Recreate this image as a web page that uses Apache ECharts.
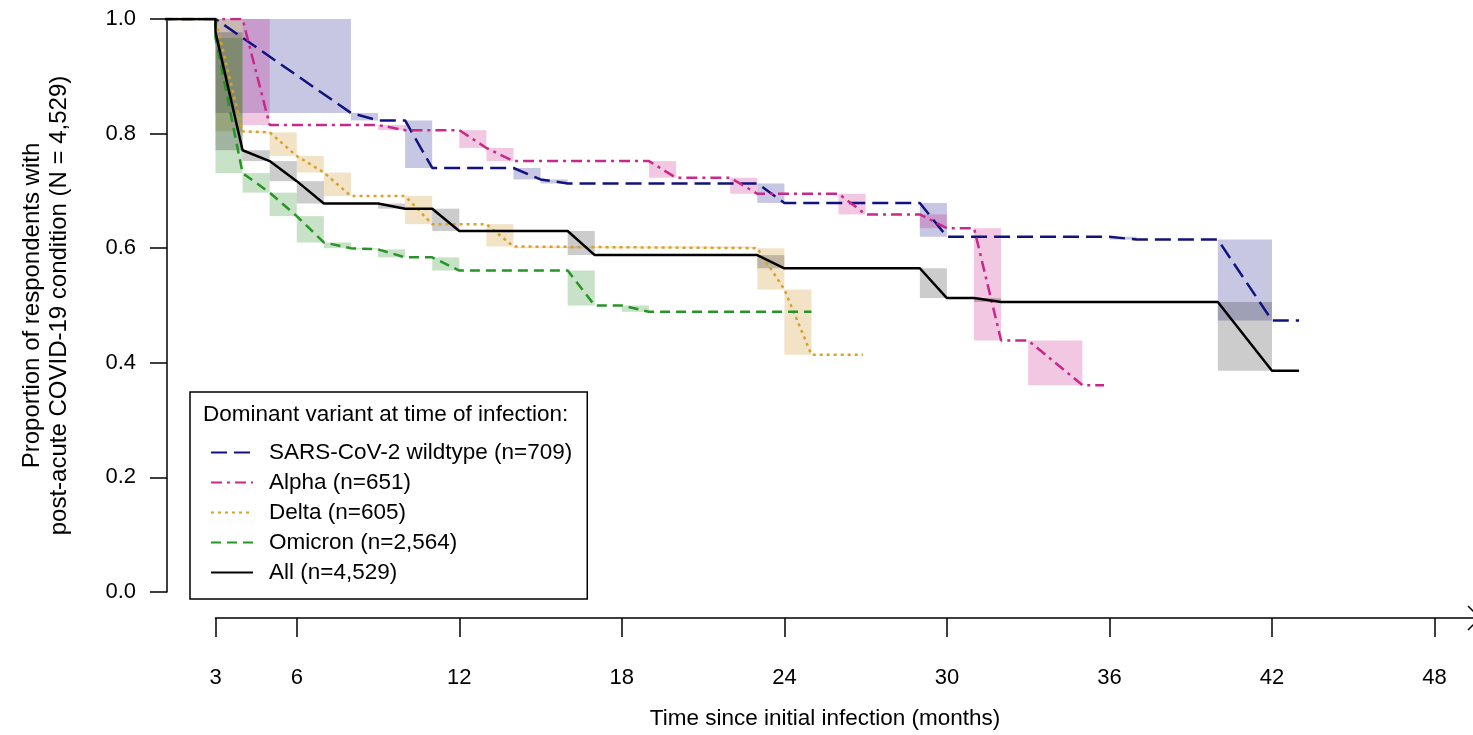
<!DOCTYPE html>
<html><head><meta charset="utf-8">
<script src="https://cdn.jsdelivr.net/npm/echarts@6/dist/echarts.min.js"></script>
<style>html,body{margin:0;padding:0;background:#fff}#c{width:1473px;height:735px}</style>
</head><body><div id="c"></div>
<script>
// ---- data (time in months, proportion with condition) ----
const seriesNames = ['SARS-CoV-2 wildtype (n=709)', 'Alpha (n=651)', 'Delta (n=605)', 'Omicron (n=2,564)', 'All (n=4,529)'];
const legendTitle = 'Dominant variant at time of infection:';
const xTicks = [3, 6, 12, 18, 24, 30, 36, 42, 48];
const xTitle = 'Time since initial infection (months)';
const yTitle = 'Proportion of respondents with\npost-acute COVID-19 condition (N = 4,529)';

const wildtype = [[0,1],[3,1],[8,0.836],[9,0.823],[10,0.823],[11,0.740],[14,0.740],[15,0.720],[16,0.713],[23,0.713],[24,0.679],[29,0.679],[30,0.620],[36,0.620],[37,0.615],[40,0.615],[42,0.474],[43,0.474]];
const alpha = [[0,1],[3,1],[4,1],[5,0.815],[9,0.815],[10,0.806],[12,0.806],[13,0.775],[14,0.752],[19,0.752],[20,0.723],[22,0.723],[23,0.695],[26,0.695],[27,0.659],[29,0.659],[30,0.635],[31,0.635],[32,0.439],[33,0.439],[35,0.361],[35.8,0.361]];
const delta = [[0,1],[3,1],[4,0.804],[5,0.802],[6,0.761],[7,0.732],[8,0.691],[10,0.691],[11,0.642],[13,0.642],[14,0.603],[23,0.600],[24,0.528],[25,0.414],[26.9,0.414]];
const omicron = [[0,1],[3,1],[3,0.967],[4,0.731],[5,0.697],[6,0.656],[7,0.610],[8,0.600],[9,0.598],[10,0.584],[11,0.584],[12,0.561],[16,0.561],[17,0.500],[18,0.500],[19,0.489],[25,0.489]];
const all = [[0,1],[3,1],[3,0.977],[4,0.771],[5,0.752],[6,0.717],[7,0.678],[9,0.678],[10,0.669],[11,0.669],[12,0.630],[16,0.630],[17,0.588],[23,0.588],[24,0.565],[29,0.565],[30,0.513],[31,0.513],[32,0.506],[40,0.506],[42,0.386],[43,0.386]];

// ---- styles ----
const FONT = '"Liberation Sans", Arial, sans-serif';
const curves = [wildtype, alpha, delta, omicron, all];
const lineColors = ['#12127f', '#c8288c', '#d9a02a', '#269426', '#000000'];
const boxColors = ['rgba(0,0,128,0.22)', 'rgba(199,21,133,0.24)', 'rgba(205,145,40,0.26)', 'rgba(34,139,34,0.25)', 'rgba(0,0,0,0.2)'];
const dashes = [[16,7], [11,5,3,5], [3,4], [10,6], 'solid'];

function boxesFrom(pts) {
  const out = [];
  for (let i = 1; i < pts.length; i++) {
    const a = pts[i - 1], b = pts[i];
    if (b[0] > a[0] && a[1] > b[1]) out.push([a[0], b[0], a[1], b[1]]);
  }
  return out;
}

const boxSeries = curves.map((pts, i) => ({
  type: 'custom', name: 'box' + i, xAxisIndex: 0, yAxisIndex: 0, z: 1, silent: true,
  encode: { x: [0, 1], y: [2, 3] },
  data: boxesFrom(pts),
  renderItem: function (params, api) {
    const p0 = api.coord([api.value(0), api.value(2)]);
    const p1 = api.coord([api.value(1), api.value(3)]);
    return { type: 'rect', shape: { x: p0[0], y: p0[1], width: p1[0] - p0[0], height: p1[1] - p0[1] }, style: { fill: boxColors[i] } };
  }
}));

const lineSeries = curves.map((pts, i) => ({
  type: 'line', name: seriesNames[i], xAxisIndex: 0, yAxisIndex: 0, z: 3,
  data: pts, symbol: 'none', clip: true,
  lineStyle: { color: lineColors[i], width: 2.5, type: dashes[i] },
  itemStyle: { color: lineColors[i] }
}));

const XMAX = 49.42;
const chart = echarts.init(document.getElementById('c'), null, { renderer: 'canvas' });
chart.setOption({
  animation: false,
  backgroundColor: '#fff',
  grid: [
    { left: 167, right: 0, top: 19, bottom: 141 },
    { left: 215.5, right: 0, top: 19, bottom: 117 }
  ],
  xAxis: [
    { gridIndex: 0, type: 'value', min: 1.21, max: XMAX,
      axisLine: { show: false }, axisTick: { show: false }, axisLabel: { show: false }, splitLine: { show: false },
      name: xTitle, nameLocation: 'middle', nameGap: 115,
      nameTextStyle: { fontSize: 22.5, color: '#000', fontFamily: FONT, padding: [0, 0, 0, 10] } },
    { gridIndex: 1, type: 'value', min: 3, max: XMAX, position: 'bottom',
      axisLine: { show: true, lineStyle: { color: '#000', width: 1.5 } },
      axisTick: { show: true, length: 19, customValues: xTicks, lineStyle: { color: '#000', width: 1.5 } },
      axisLabel: { customValues: xTicks, margin: 49, fontSize: 22, color: '#000', fontFamily: FONT },
      splitLine: { show: false } }
  ],
  yAxis: [
    { gridIndex: 0, type: 'value', min: 0, max: 1, interval: 0.2,
      axisLine: { show: true, lineStyle: { color: '#000', width: 1.5 } },
      axisTick: { show: true, length: 17, lineStyle: { color: '#000', width: 1.5 } },
      axisLabel: { margin: 31, fontSize: 22, color: '#000', fontFamily: FONT, formatter: v => v.toFixed(1) },
      splitLine: { show: false },
      name: yTitle, nameLocation: 'middle', nameGap: 94, nameRotate: 90,
      nameTextStyle: { fontSize: 24, color: '#000', fontFamily: FONT, lineHeight: 27, align: 'center' } },
    { gridIndex: 1, type: 'value', min: 0, max: 1, show: false }
  ],
  legend: {
    data: seriesNames, orient: 'vertical', left: 190, top: 392,
    padding: [49, 15, 15, 20], itemWidth: 42, itemHeight: 20, itemGap: 7,
    borderColor: '#000', borderWidth: 1.5, backgroundColor: '#fff', borderRadius: 0,
    selectedMode: false,
    itemStyle: { opacity: 0 },
    textStyle: { fontSize: 22.5, color: '#000', fontFamily: FONT, lineHeight: 20, padding: [0, 0, 0, 11] }
  },
  graphic: [
    { type: 'text', left: 203, top: 403, z: 100,
      style: { text: legendTitle, fontSize: 22.5, fill: '#000', fontFamily: FONT } },
    { type: 'polyline', z: 100, shape: { points: [[1468, 606], [1480, 618], [1468, 630]] },
      style: { stroke: '#000', lineWidth: 1.5, fill: null } }
  ],
  series: boxSeries.concat(lineSeries)
});
</script>
</body></html>
